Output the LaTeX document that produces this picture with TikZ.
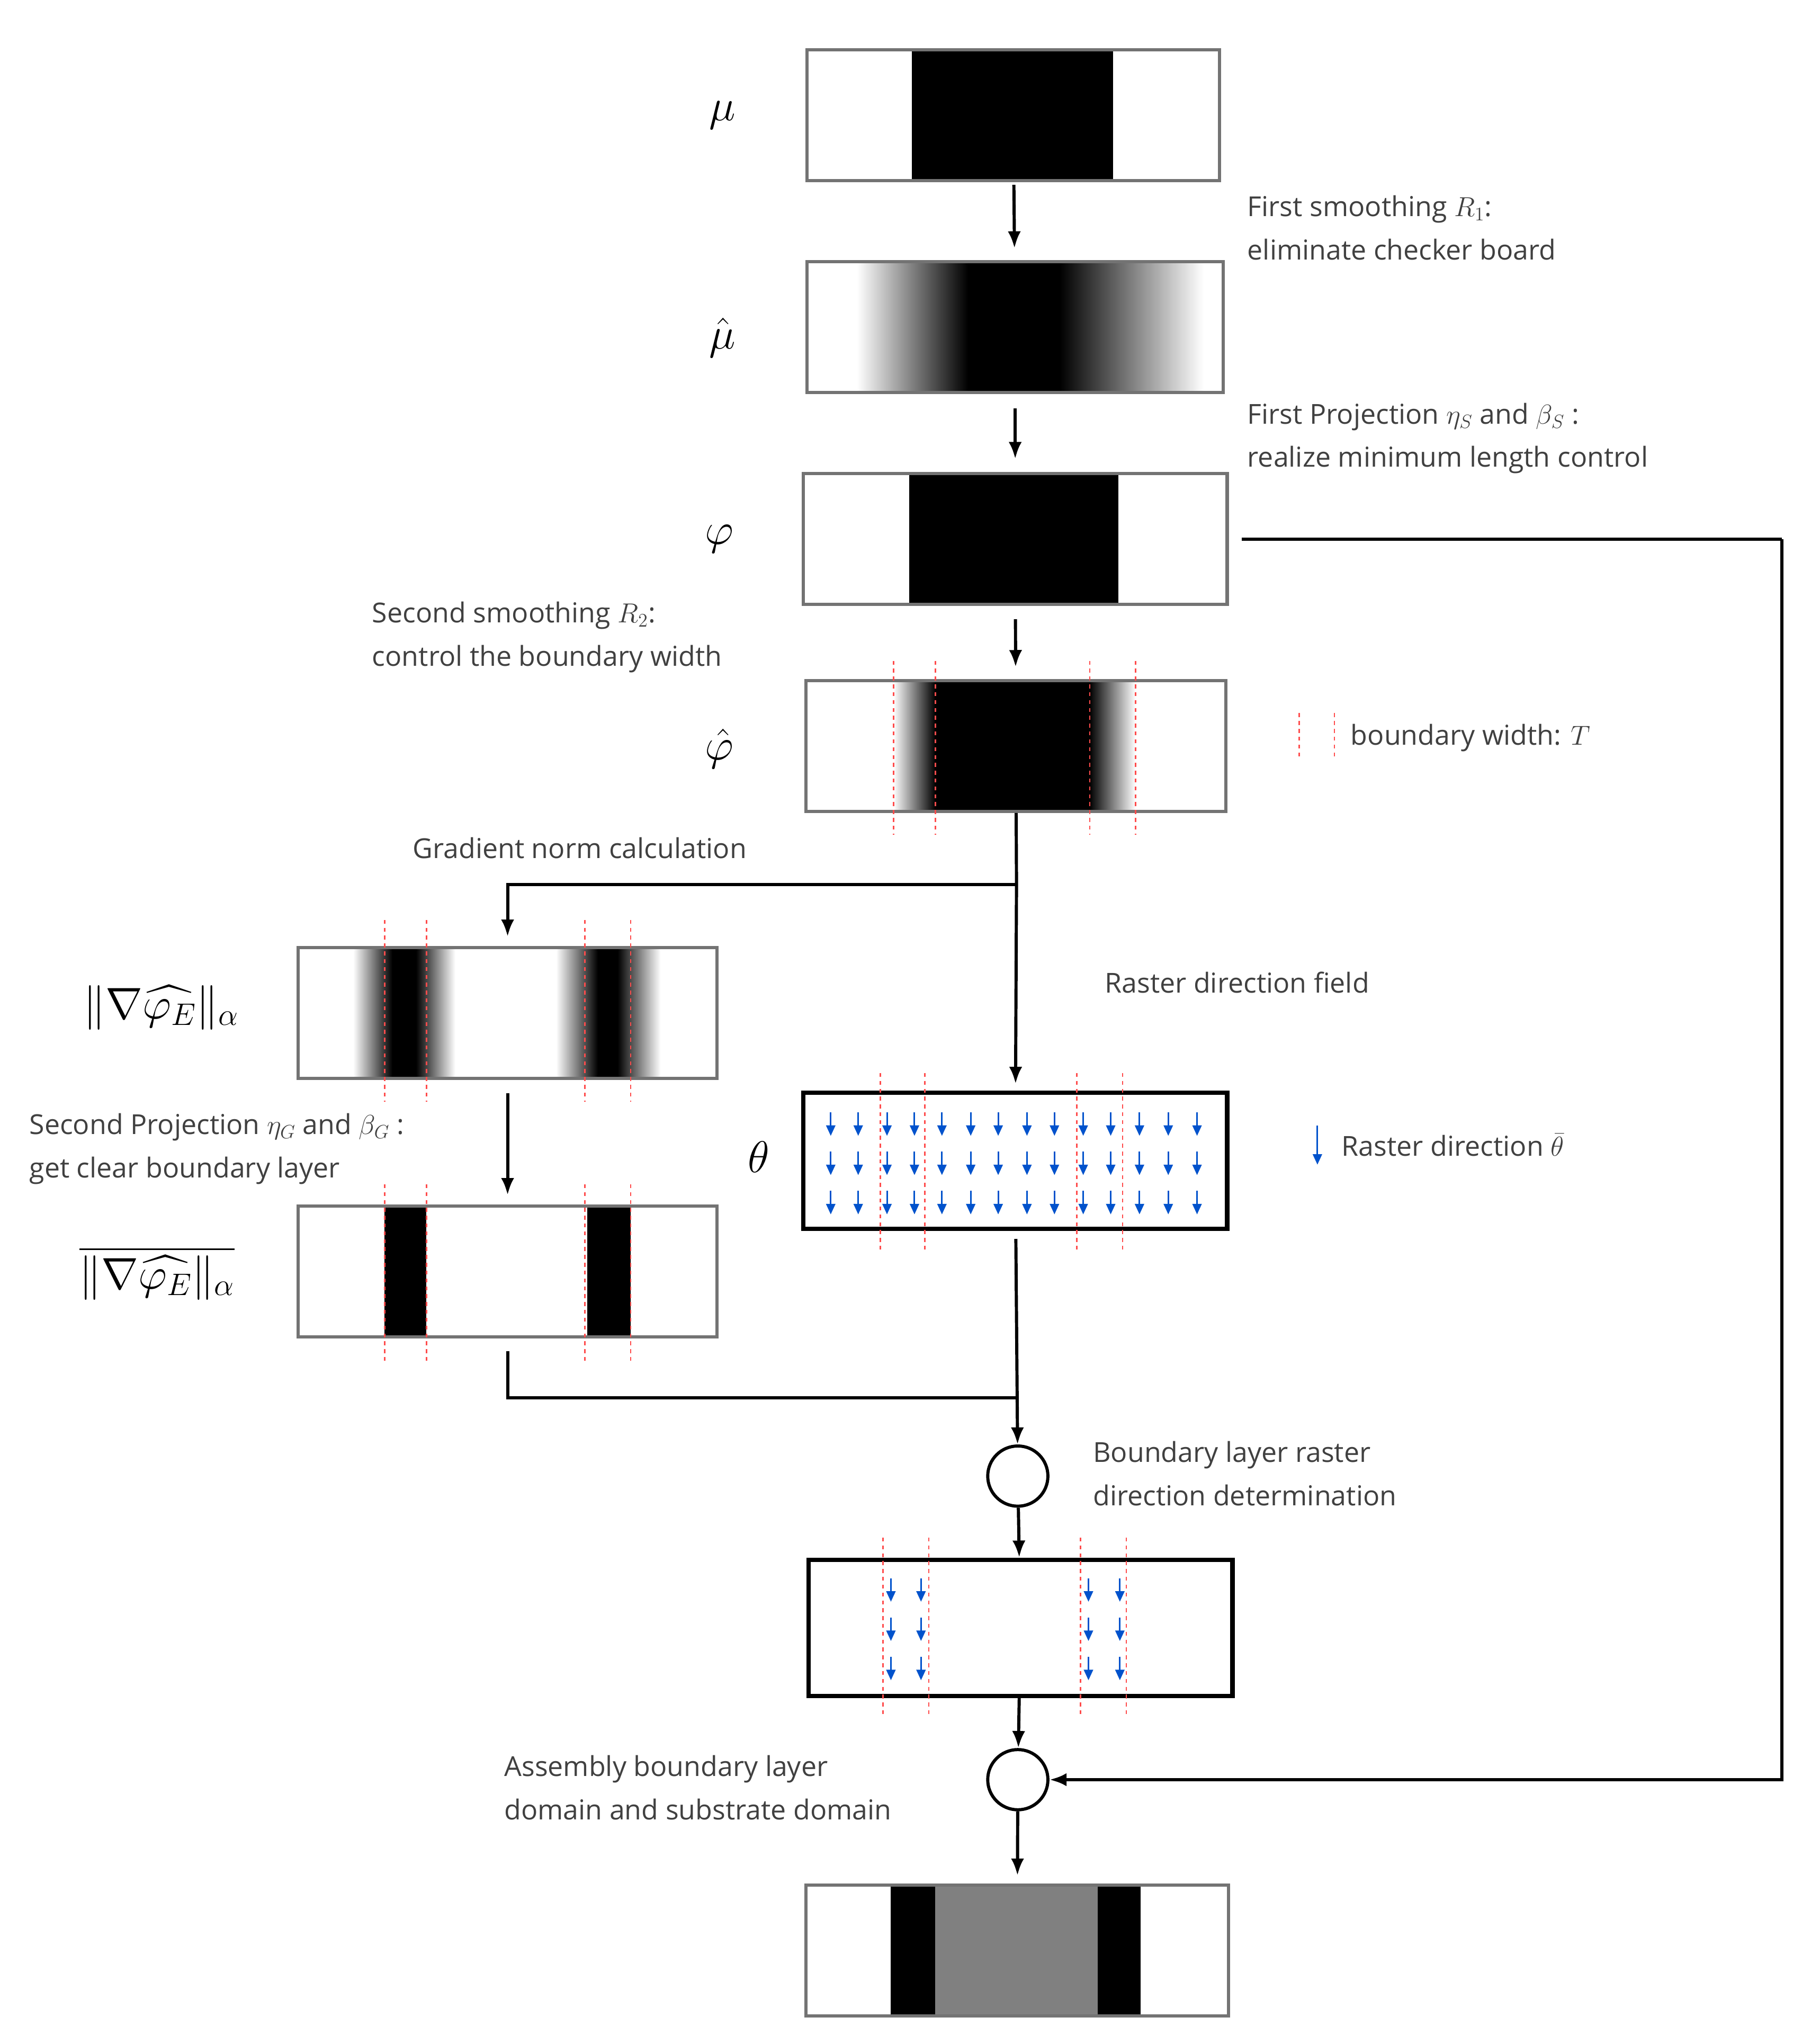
\documentclass[tikz,border=0pt]{standalone}
\usepackage{fix-cm}
\usepackage{amsmath}
\usepackage{amssymb}
\usepackage{fontspec}
\setmainfont{Open Sans}
\usetikzlibrary{positioning, arrows.meta}

\tikzset{
  bar/.style={draw=black!55, line width=2.5pt, minimum height=100pt, inner sep=0pt},
  thickbar/.style={draw=black, line width=3.5pt, minimum height=104pt, inner sep=0pt},
  arr/.style={line width=2.4pt, -{Latex[length=13pt,width=10pt]}},
  conn/.style={line width=2.4pt},
  bwidth/.style={red!70, dash pattern={on 3pt off 3pt}, line width=1pt},
  raster/.style={blue!60!cyan!80!black, line width=1.2pt, -{Triangle[length=8pt,width=7pt]}},
  lbl/.style={anchor=west, align=left, text=black!75, font=\fontsize{21}{33}\selectfont},
  sym/.style={font=\fontsize{34}{40}\selectfont}
}

\begin{document}
\begin{tikzpicture}[x=1pt,y=1pt,yscale=-1,xscale=1]
\useasboundingbox (0,0) rectangle (1384,1562);

%Shape: fills of the bars
\fill (697,38) rectangle (851,138);
\shade[left color=white, right color=black] (655,200) rectangle (740,300);
\fill (740,200) rectangle (810,300);
\shade[left color=black, right color=white] (810,200) rectangle (920,300);
\fill (695,362) rectangle (855,462);
\shade[left color=white, right color=black] (683,520) rectangle (715,620);
\fill (715,520) rectangle (833,620);
\shade[left color=black, right color=white] (833,520) rectangle (868,620);
\shade[left color=white, right color=black] (270,724) rectangle (300,824);
\fill (300,724) rectangle (318,824);
\shade[left color=black, right color=white] (318,724) rectangle (348,824);
\shade[left color=white, right color=black] (425,724) rectangle (457,824);
\fill (457,724) rectangle (472,824);
\shade[left color=black, right color=white] (472,724) rectangle (505,824);
\fill (294,921) rectangle (326,1022);
\fill (449,921) rectangle (482,1022);
\fill (681,1440) rectangle (715,1541);
\fill[black!50] (715,1440) rectangle (839,1541);
\fill (839,1440) rectangle (872,1541);

%Bars
\node[bar, minimum width=315pt] (mu) at (774.5,88) {};
\node[bar, minimum width=318pt] (muhat) at (776,250) {};
\node[bar, minimum width=324pt] (phi) at (776,412) {};
\node[bar, minimum width=321pt] (phihat) at (776.5,570) {};
\node[bar, minimum width=320pt] (grad) at (388,774) {};
\node[bar, minimum width=320pt] (proj) at (388,971.5) {};
\node[thickbar, minimum width=324pt] (theta) at (776,887) {};
\node[thickbar, minimum width=324pt] (layer) at (780,1244) {};
\node[bar, minimum width=323pt] (final) at (777.5,1490.5) {};
\node[circle, draw, line width=2.4pt, minimum size=46pt, inner sep=0pt] (c1) at (778,1128) {};
\node[circle, draw, line width=2.4pt, minimum size=46pt, inner sep=0pt] (c2) at (778,1360) {};

%Raster arrows
\foreach \x in {635,656,678,699,720,742,763,785,806,828,849,871,893,915}
  \foreach \y in {850,880,910}
    \draw[raster] (\x,\y) -- (\x,\y+18);
\foreach \x in {681,704,832,856}
  \foreach \y in {1206,1236,1266}
    \draw[raster] (\x,\y) -- (\x,\y+18);

%Boundary width lines
\foreach \x in {683,715,833,868} \draw[bwidth] (\x,505) -- (\x,638);
\foreach \x in {294,326,447,482} \draw[bwidth] (\x,703) -- (\x,842);
\foreach \x in {294,326,447,482} \draw[bwidth] (\x,905) -- (\x,1040);
\foreach \x in {673,707,823,858} \draw[bwidth] (\x,820) -- (\x,955);
\foreach \x in {675,710,826,861} \draw[bwidth] (\x,1175) -- (\x,1310);

%Connectors
\coordinate (split) at (777,676);
\coordinate (join) at (778,1068);
\coordinate (rt) at (1362,412);
\draw[arr, shorten <=2pt, shorten >=9pt] (mu) -- (muhat);
\draw[arr, shorten <=11pt, shorten >=10pt] (muhat) -- (phi);
\draw[arr, shorten <=10pt, shorten >=9pt] (phi) -- (phihat);
\draw[conn] (phihat) -- (split);
\draw[arr, shorten >=7pt] (split) -| (grad);
\draw[arr, shorten >=5pt] (split) -- (theta);
\draw[arr, shorten <=10pt, shorten >=7pt] (grad) -- (proj);
\draw[conn, shorten <=10pt] (proj) |- (join);
\draw[arr, shorten <=6pt] (theta) -- (c1);
\draw[arr] (c1) -- (layer);
\draw[arr] (layer) -- (c2);
\draw[arr, shorten >=6pt] (c2) -- (final);
\draw[conn, shorten <=10pt] (phi) -- (rt);
\draw[arr] (rt) |- (c2);

%Symbols
\node[sym] (lmu) at (552,88) {$\mu$};
\node[sym] (lmuhat) at (552,258) {$\hat{\mu}$};
\node[sym] (lphi) at (550,412) {$\varphi$};
\node[sym] (lphihat) at (550,572) {$\hat{\varphi}$};
\node[sym] (ltheta) at (580,884) {$\theta$};
\node[sym] (lgrad) at (123,770) {$\|\nabla\widehat{\varphi_E}\|_\alpha$};
\node[sym] (lproj) at (120,973) {$\overline{\|\nabla\widehat{\varphi_E}\|_\alpha}$};

%Texts
\node[lbl] (t1) at (950,174) {First smoothing $R_1$:\\eliminate checker board};
\node[lbl] (t2) at (950,335) {First Projection $\eta_S$ and $\beta_S$ :\\realize minimum length control};
\node[lbl] (t3) at (281,487) {Second smoothing $R_2$:\\control the boundary width};
\node[lbl] (t4) at (312,648) {Gradient norm calculation};
\node[lbl] (t5) at (841,751) {Raster direction field};
\node[lbl] (t6) at (19,878) {Second Projection $\eta_G$ and $\beta_G$ :\\get clear boundary layer};
\node[lbl] (t7) at (832,1126) {Boundary layer raster\\direction determination};
\node[lbl] (t8) at (382,1366) {Assembly boundary layer\\domain and substrate domain};

%Legends
\draw[bwidth] (993,545) -- (993,580);
\draw[bwidth] (1020,545) -- (1020,580);
\node[lbl] (t9) at (1029,564) {boundary width: $T$};
\draw[raster] (1007,860) -- (1007,890);
\node[lbl] (t10) at (1022,875) {Raster direction $\bar{\theta}$};
\end{tikzpicture}
\end{document}
